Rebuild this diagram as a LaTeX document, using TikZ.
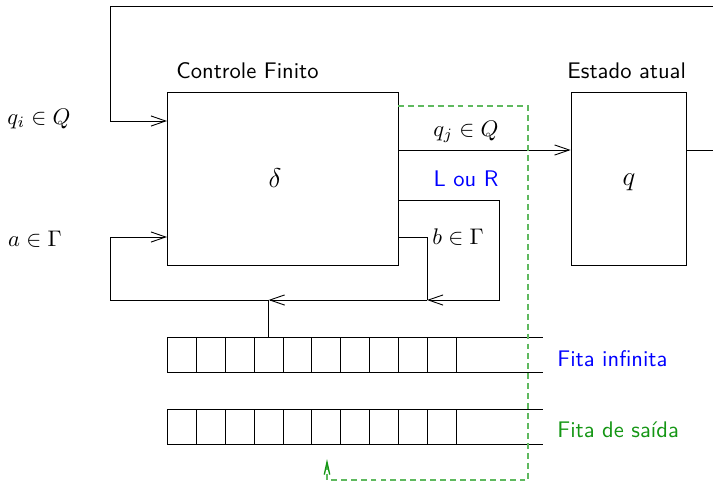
\documentclass[tikz,border=0pt]{standalone}
\usetikzlibrary{arrows.meta}
\definecolor{dashgreen}{RGB}{95,185,95}
\definecolor{tapegreen}{RGB}{20,150,20}
\tikzset{
    box/.style={draw, inner sep=0pt, minimum height=76.6pt},
    cell/.style={draw, inner sep=0pt, outer sep=0pt, minimum width=12.77pt, minimum height=15.8pt},
    lbl/.style={inner sep=0pt, font=\sffamily},
    mlbl/.style={inner sep=0pt},
    flow/.style={dash pattern=on 2.6pt off 1.8pt, line width=0.6pt, dashgreen},
}
\begin{document}
\begin{tikzpicture}[x=0.443pt, y=-0.443pt, >={Straight Barb[length=6.5pt,width=4.5pt]}]
    \useasboundingbox (0,0) rectangle (713,485);
    \clip (0,0) rectangle (713,485);
    % caixas
    \node[box, minimum width=102.3pt] (ctrl) at (282.5,178.5) {};
    \node[box, minimum width=50.9pt] (state) at (628.5,178.5) {};
    \node[mlbl] (delta) at (275,178) {\large $\delta$};
    \node[mlbl] (q) at (629,182) {\large $q$};
    \node[lbl, anchor=base west] (ctrltitle) at (176,78) {Controle Finito};
    \node[lbl, anchor=base west] (statetitle) at (567,78) {Estado atual};
    % fitas
    \foreach \i in {0,...,9} {
        \node[cell] (a\i) at (182.1+28.83*\i,355) {};
        \node[cell] (b\i) at (182.1+28.83*\i,427) {};
    }
    \draw (a9.north east) -- ++(87,0);
    \draw (a9.south east) -- ++(87,0);
    \draw (b9.north east) -- ++(87,0);
    \draw (b9.south east) -- ++(87,0);
    \node[lbl, anchor=base west, blue] (tape1) at (557,366) {Fita infinita};
    \node[lbl, anchor=base west, tapegreen] (tape2) at (557,437) {Fita de saída};
    % portas
    \coordinate (qin) at (167,121);
    \coordinate (ain) at (167,237);
    \coordinate (qjout) at (398,150);
    \coordinate (lrout) at (398,200);
    \coordinate (bout) at (398,237);
    \coordinate (wout) at (398,106);
    \coordinate (jb) at (427,300);
    \coordinate (jh) at (a3.north |- jb);
    % rotulos
    \node[mlbl] (qi) at (39,119) {$q_i \in Q$};
    \node[mlbl] (a) at (35,239) {$a \in \Gamma$};
    \node[mlbl] (qj) at (466,132) {$q_j \in Q$};
    \node[lbl, blue] (lr) at (466,179) {L ou R};
    \node[mlbl] (b) at (458,237) {$b \in \Gamma$};
    % conexoes
    \draw[->] (qjout) -- (state.west |- qjout);
    \draw[->] (state.east |- qjout) -| (730,6) -| (110,121) -- (qin);
    \draw[->] (lrout) -| (499,300) -- (jb);
    \draw (bout) -| (jb);
    \draw[->] (jb) -- (jh);
    \draw (a3.north) -- (jh);
    \draw[->] (jh) -| (110,237) -- (ain);
    \draw[flow, -{Straight Barb[length=5.5pt,width=2.4pt,color=tapegreen]}] (wout) -| (528,480) -| (327,459);
\end{tikzpicture}
\end{document}
